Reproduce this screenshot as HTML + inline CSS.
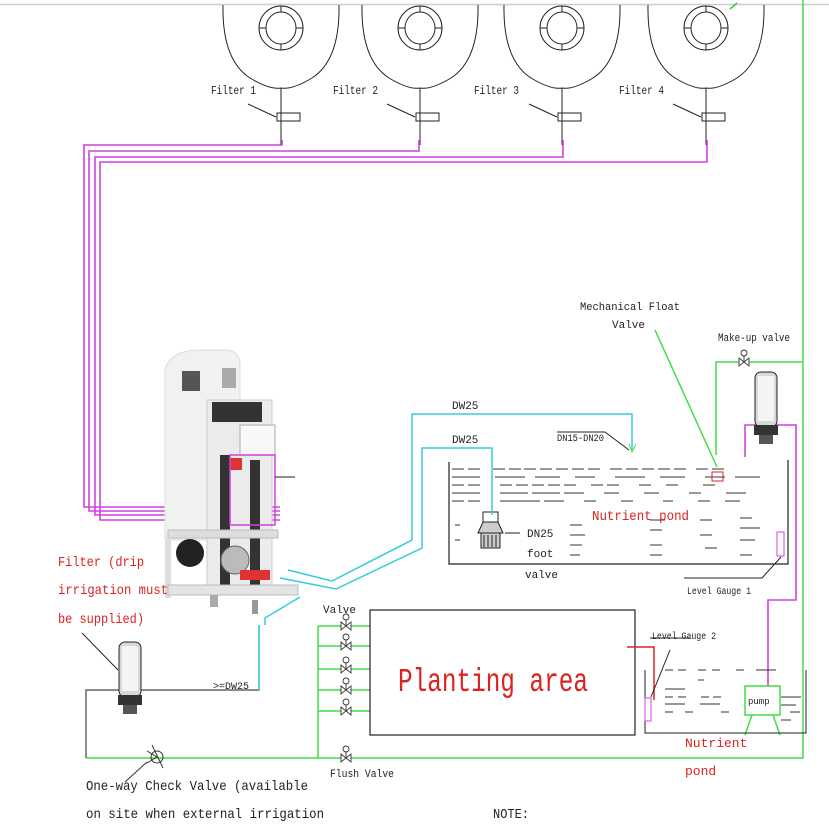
<!DOCTYPE html>
<html><head><meta charset="utf-8"><style>
html,body{margin:0;padding:0;background:#fff;}
svg{display:block;}
text{font-family:"Liberation Mono","DejaVu Sans Mono",monospace;}
</style></head><body>
<svg width="829" height="824" viewBox="0 0 829 824" xmlns="http://www.w3.org/2000/svg">
<rect width="829" height="824" fill="#fff"/>
<line x1="0" y1="4.5" x2="829" y2="4.5" stroke="#ccc" stroke-width="1.5"/>

<!-- Filters top -->
<g fill="none" stroke="#222" stroke-width="1">
  <g id="f1">
    <path d="M223,5 Q222,60 250,78 Q270,90 281,88 Q292,90 312,78 Q340,60 339,5"/>
    <ellipse cx="281" cy="28" rx="22" ry="22"/>
    <ellipse cx="281" cy="28" rx="15" ry="16"/>
    <line x1="281" y1="6" x2="281" y2="12"/><line x1="281" y1="44" x2="281" y2="50"/>
    <line x1="259" y1="28" x2="266" y2="28"/><line x1="296" y1="28" x2="303" y2="28"/>
    <line x1="281" y1="88" x2="281" y2="145"/>
    <rect x="277" y="113" width="23" height="8"/>
    <line x1="248" y1="104" x2="276" y2="117"/>
  </g>
  <use href="#f1" x="139"/>
  <use href="#f1" x="281"/>
  <use href="#f1" x="425"/>
</g>
<g font-size="12" fill="#222">
  <text x="211" y="94" textLength="45" lengthAdjust="spacingAndGlyphs">Filter 1</text>
  <text x="333" y="94" textLength="45" lengthAdjust="spacingAndGlyphs">Filter 2</text>
  <text x="474" y="94" textLength="45" lengthAdjust="spacingAndGlyphs">Filter 3</text>
  <text x="619" y="94" textLength="45" lengthAdjust="spacingAndGlyphs">Filter 4</text>
</g>
<line x1="730" y1="9" x2="737" y2="3" stroke="#3c3" stroke-width="1.5"/>

<!-- magenta pipes -->
<g fill="none" stroke="#d040e0" stroke-width="1.6">
  <path d="M282,140 V145 H84 V507 H280"/>
  <path d="M419,140 V151 H89 V511 H280"/>
  <path d="M563,140 V157 H95 V515 H280"/>
  <path d="M707,140 V162 H100 V520 H280"/>
  <path d="M745,457 V425 H796 V600 H768 V686"/>
</g>

<!-- green main -->
<g fill="none" stroke="#4d4" stroke-width="1.5">
  <path d="M803,0 V758 H318"/>
  <path d="M318,626 V758"/>
  <path d="M318,626 H370 M318,646 H370 M318,669 H370 M318,690 H370 M318,711 H370"/>
  <path d="M803,362 H716 V455"/>
  <path d="M655,330 L717,467"/>
  <path d="M745,735 L752,715 M780,735 L773,715"/>
</g>
<path d="M86,758 H318" stroke="#4d4" stroke-width="1.5"/>
<path d="M86,758 V690 H259 V625" fill="none" stroke="#444" stroke-width="1.2"/>

<!-- valves -->
<g fill="#fff" stroke="#333" stroke-width="0.9">
  <g id="v1"><path d="M341,622 L351,630 L351,622 L341,630 Z"/><circle cx="346" cy="617" r="3"/><line x1="346" y1="620" x2="346" y2="626"/></g>
  <use href="#v1" y="20"/><use href="#v1" y="43"/><use href="#v1" y="64"/><use href="#v1" y="85"/><use href="#v1" y="132"/>
  <use href="#v1" x="398" y="-264"/>
</g>
<!-- check valve -->
<circle cx="157" cy="757" r="6" fill="none" stroke="#333"/>
<path d="M147,751 L157,757 L147,763 M152,745 L163,768" fill="none" stroke="#333"/>
<path d="M147,762 L125,782" stroke="#333"/>

<!-- planting area -->
<rect x="370" y="610" width="265" height="125" fill="none" stroke="#222" stroke-width="1.2"/>
<text x="398" y="691" font-size="33" fill="#d22" textLength="190" lengthAdjust="spacingAndGlyphs">Planting area</text>
<path d="M627,647 H654 V700" fill="none" stroke="#d22" stroke-width="1.5"/>
<text x="323" y="613" font-size="11" fill="#222">Valve</text>
<text x="330" y="777" font-size="11" fill="#222" textLength="64" lengthAdjust="spacingAndGlyphs">Flush Valve</text>

<!-- small pond -->
<path d="M645,670 V733 H806 V670" fill="none" stroke="#222"/>
<g stroke="#333" stroke-width="1">
  <path d="M665,670h8m5,0h8m12,0h8m6,0h8m16,0h8m12,0h20 M698,680h6 M665,689h20 M665,697h8m5,0h8m15,0h8m4,0h8m35,0h10 M665,704h20m15,0h20m40,0h10 M665,712h8m12,0h8m28,0h8 M781,697h20 M781,705h15 M790,712h10 M781,720h10"/>
</g>
<rect x="745" y="686" width="35" height="29" fill="#fff" stroke="#4d4" stroke-width="1.5"/>
<text x="748" y="704" font-size="9" fill="#222">pump</text>
<rect x="645" y="698" width="6" height="23" fill="#fff" stroke="#d040e0"/>
<path d="M651,697 L670,650 M650,638 H690" fill="none" stroke="#222"/>
<text x="652" y="639" font-size="10" fill="#222" textLength="64" lengthAdjust="spacingAndGlyphs">Level Gauge 2</text>
<text x="685" y="747" font-size="13" fill="#d22">Nutrient</text>
<text x="685" y="775" font-size="13" fill="#d22">pond</text>

<!-- big pond -->
<path d="M449,462 V564 H788 V460" fill="none" stroke="#222" stroke-width="1.2"/>
<g stroke="#333" stroke-width="1">
  <path d="M452,469h12m4,0h12m13,0h12m4,0h12m3,0h12m4,0h12m4,0h12m4,0h12m4,0h12m10,0h12m4,0h12m4,0h12m4,0h12m4,0h12m10,0h12m4,0h12"/>
  <path d="M452,477h28m15,0h30m10,0h25m15,0h20m20,0h30m15,0h25m20,0h20m10,0h25"/>
  <path d="M452,485h12m4,0h12m20,0h12m4,0h12m4,0h12m4,0h12m4,0h12m15,0h12m4,0h12m20,0h12m15,0h12m25,0h12"/>
  <path d="M452,493h28m20,0h28m4,0h28m4,0h20m20,0h15m25,0h15m30,0h12m25,0h20"/>
  <path d="M452,501h12m4,0h12m20,0h40m4,0h20m20,0h12m25,0h12m30,0h10m25,0h12m15,0h15"/>
  <path d="M455,525h5 M455,540h5 M570,525h12 M570,535h15 M570,545h12 M570,555h10 M650,520h15 M650,530h12 M650,545h12 M650,555h12 M700,520h12 M700,535h12 M705,548h12 M740,518h12 M740,528h20 M740,540h15 M740,555h12"/>
</g>
<rect x="777" y="532" width="7" height="24" fill="#fff" stroke="#d040e0"/>
<path d="M781,557 L762,578 H684" fill="none" stroke="#222"/>
<text x="687" y="594" font-size="10" fill="#222" textLength="64" lengthAdjust="spacingAndGlyphs">Level Gauge 1</text>
<text x="592" y="520" font-size="14" fill="#d22" textLength="97" lengthAdjust="spacingAndGlyphs">Nutrient pond</text>
<rect x="712" y="472" width="11" height="9" fill="none" stroke="#d22"/>
<!-- foot valve -->
<rect x="483" y="512" width="15" height="10" fill="#fff" stroke="#222"/>
<path d="M483,522 L478,533 H503 L498,522 Z M481,533 V548 H500 V533" fill="#ccc" stroke="#222"/>
<path d="M484,535v12M488,535v12M492,535v12M496,535v12" stroke="#222"/>
<path d="M505,533 H520" stroke="#222"/>
<text x="527" y="537" font-size="11" fill="#222">DN25</text>
<text x="527" y="557" font-size="11" fill="#222">foot</text>
<text x="525" y="578" font-size="11" fill="#222">valve</text>
<text x="557" y="441" font-size="10" fill="#222" textLength="47" lengthAdjust="spacingAndGlyphs">DN15-DN20</text>
<path d="M557,432 H605 L629,450" fill="none" stroke="#222"/>

<!-- cyan pipes -->
<g fill="none" stroke="#3cd" stroke-width="1.5">
  <path d="M288,570 L332,581 L412,540 V414 H632 V450"/>
  <path d="M280,578 L336,589 L422,548 V448 H492 V515"/>
  <path d="M300,597 L265,618 V625"/>
  <path d="M259,625 V690"/>
</g>
<text x="452" y="409" font-size="11" fill="#222">DW25</text>
<text x="452" y="443" font-size="11" fill="#222">DW25</text>
<text x="213" y="689" font-size="10" fill="#222">&gt;=DW25</text>
<path d="M629,444 L632,452 L636,444" fill="none" stroke="#4d4"/>

<!-- machine (approx) -->
<g>
  <path d="M165,370 Q170,350 200,350 L228,350 Q240,352 240,365 V540 H165 Z" fill="#f1f1f1" stroke="#ddd"/>
  <rect x="182" y="371" width="18" height="20" fill="#555"/>
  <rect x="222" y="368" width="14" height="20" fill="#aaa"/>
  <rect x="207" y="400" width="65" height="185" fill="#ebebeb" stroke="#ccc"/>
  <rect x="212" y="402" width="50" height="20" fill="#333"/>
  <rect x="240" y="425" width="35" height="30" fill="#f8f8f8" stroke="#aaa"/>
  <rect x="220" y="455" width="10" height="140" fill="#333"/>
  <rect x="250" y="460" width="10" height="130" fill="#333"/>
  <rect x="230" y="458" width="12" height="12" fill="#d33"/>
  <circle cx="190" cy="553" r="14" fill="#222"/>
  <circle cx="235" cy="560" r="14" fill="#bbb" stroke="#666"/>
  <rect x="240" y="570" width="30" height="10" fill="#d33"/>
  <rect x="168" y="530" width="110" height="8" fill="#ddd" stroke="#bbb"/>
  <rect x="165" y="538" width="6" height="60" fill="#ddd"/>
  <rect x="168" y="585" width="130" height="10" fill="#e4e4e4" stroke="#bbb"/>
  <rect x="210" y="595" width="8" height="12" fill="#aaa"/>
  <rect x="252" y="600" width="6" height="14" fill="#999"/>
  <rect x="230" y="455" width="45" height="70" fill="none" stroke="#d040e0" stroke-width="1.5"/>
  <line x1="275" y1="477" x2="295" y2="477" stroke="#222"/>
</g>

<!-- filter cartridges -->
<g id="cart">
  <rect x="755" y="372" width="22" height="55" rx="6" fill="#d8d8d8" stroke="#222"/>
  <rect x="758" y="376" width="16" height="45" fill="#f4f4f4"/>
  <rect x="754" y="425" width="24" height="10" fill="#333"/>
  <rect x="759" y="435" width="14" height="9" fill="#555"/>
</g>
<g transform="translate(-636,270)">
  <rect x="755" y="372" width="22" height="55" rx="6" fill="#d8d8d8" stroke="#222"/>
  <rect x="758" y="376" width="16" height="45" fill="#f4f4f4"/>
  <rect x="754" y="425" width="24" height="10" fill="#333"/>
  <rect x="759" y="435" width="14" height="9" fill="#555"/>
</g>
<line x1="82" y1="633" x2="118" y2="670" stroke="#222"/>

<!-- labels -->
<text x="580" y="310" font-size="11" fill="#222" textLength="100" lengthAdjust="spacingAndGlyphs">Mechanical Float</text>
<text x="612" y="328" font-size="11" fill="#222">Valve</text>
<text x="718" y="341" font-size="11" fill="#222" textLength="72" lengthAdjust="spacingAndGlyphs">Make-up valve</text>
<g font-size="14" fill="#d22">
  <text x="58" y="566" textLength="86" lengthAdjust="spacingAndGlyphs">Filter (drip</text>
  <text x="58" y="594" textLength="110" lengthAdjust="spacingAndGlyphs">irrigation must</text>
  <text x="58" y="623" textLength="86" lengthAdjust="spacingAndGlyphs">be supplied)</text>
</g>
<g font-size="14" fill="#222">
  <text x="86" y="790" textLength="222" lengthAdjust="spacingAndGlyphs">One-way Check Valve (available</text>
  <text x="86" y="818" textLength="238" lengthAdjust="spacingAndGlyphs">on site when external irrigation</text>
  <text x="493" y="818" textLength="36" lengthAdjust="spacingAndGlyphs">NOTE:</text>
</g>
</svg>
</body></html>
